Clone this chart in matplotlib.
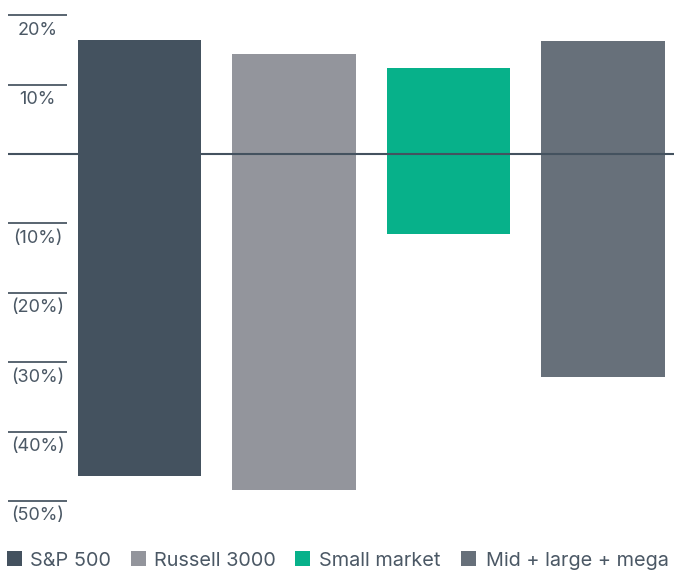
import matplotlib
matplotlib.use("Agg")
import matplotlib.pyplot as plt
from matplotlib.patches import Rectangle

# Return ranges (%) for each index
names = ["S&P 500", "Russell 3000", "Small market", "Mid + large + mega"]
highs = [16.4, 14.4, 12.4, 16.3]
lows = [-46.4, -48.4, -11.6, -32.2]
colors = ["#44525f", "#93959c", "#07b18a", "#67707a"]

yticks = [20, 10, -10, -20, -30, -40, -50]
ytick_labels = ["20%", "10%", "(10%)", "(20%)", "(30%)", "(40%)", "(50%)"]

text_color = "#4b5865"
plt.rcParams["font.family"] = ["Inter", "DejaVu Sans"]

fig = plt.figure(figsize=(6.76, 5.71), dpi=100)
W, H = 676, 571
ax = fig.add_axes([8 / W, (H - 530) / H, 666 / W, 530 / H])

xs = list(range(len(names)))
heights = [h - l for h, l in zip(highs, lows)]
ax.bar(xs, heights, bottom=lows, width=0.8, color=colors, zorder=2)

x_left = -0.851
ax.set_xlim(x_left, 3.46)
ax.set_ylim(-54.18, 22.19)

# zero line across the chart
ax.axhline(0, color="#44525f", lw=1.5, zorder=3)

# short rules with labels beneath them instead of a y axis
rule_end = x_left + 59 / 154.5
label_x = x_left + 29.5 / 154.5
for v, lab in zip(yticks, ytick_labels):
    ax.plot([x_left, rule_end], [v, v], color=text_color, lw=1.3,
            solid_capstyle="butt", clip_on=False)
    ax.annotate(lab, (label_x, v), xytext=(0, -15), textcoords="offset pixels",
                ha="center", va="center", fontsize=13, color=text_color)

ax.axis("off")

# legend row along the bottom, laid out in pixel positions
swatch_x = [7, 131, 295, 461]
text_x = [30.5, 154, 319, 486.5]
sw = 15
for c, name, sx, tx in zip(colors, names, swatch_x, text_x):
    fig.add_artist(Rectangle((sx / W, 1 - 566 / H), sw / W, sw / H,
                             transform=fig.transFigure, facecolor=c,
                             edgecolor="none"))
    fig.text(tx / W, 1 - 566.5 / H, name, ha="left", va="baseline",
             fontsize=14.3, color=text_color)

fig.savefig("out.png", dpi=100)
